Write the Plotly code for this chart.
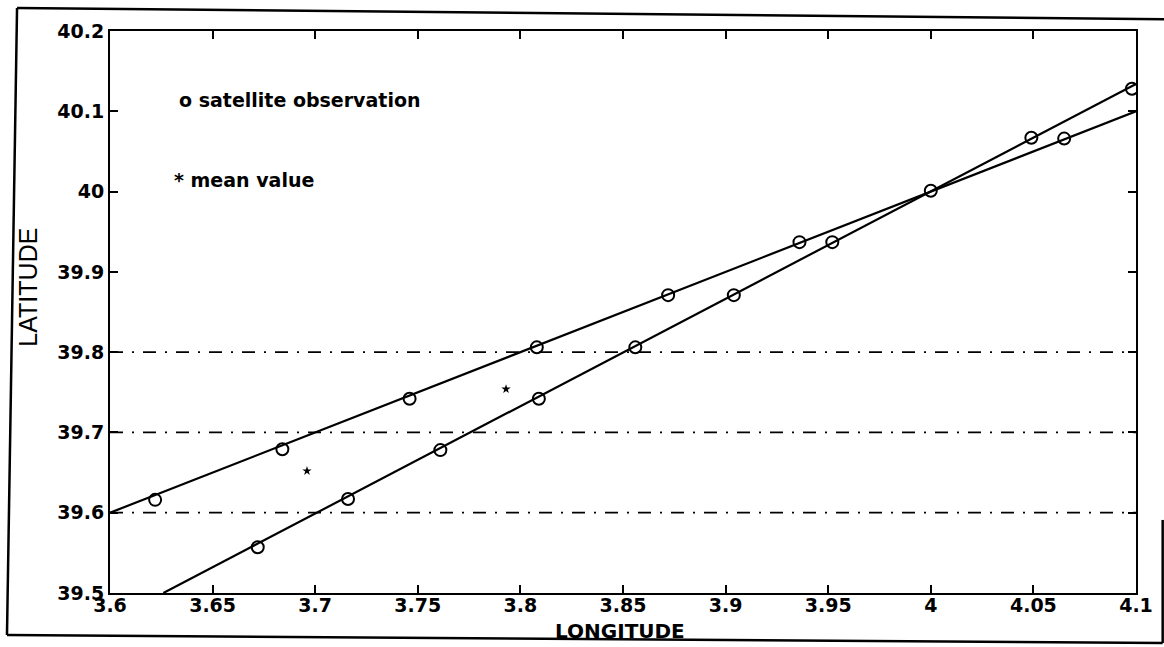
"""Satellite observations of two tracks and their mean values (longitude vs latitude)."""

import plotly.graph_objects as go

# Satellite observations along the flatter track
track_a_lon = [3.622, 3.684, 3.746, 3.808, 3.872, 3.936, 4.000, 4.065]
track_a_lat = [39.616, 39.679, 39.742, 39.806, 39.871, 39.937, 40.001, 40.066]

# Satellite observations along the steeper track
track_b_lon = [3.672, 3.716, 3.761, 3.809, 3.856, 3.904, 3.952, 4.049, 4.098]
track_b_lat = [39.557, 39.617, 39.678, 39.742, 39.806, 39.871, 39.937, 40.067, 40.128]

# Fitted lines drawn through each track (end points)
line_a_lon = [3.600, 4.100]
line_a_lat = [39.600, 40.100]
line_b_lon = [3.626, 4.100]
line_b_lat = [39.500, 40.134]

# Mean values
mean_lon = [3.696, 3.793]
mean_lat = [39.652, 39.754]

# Reference latitudes (dash-dot)
ref_lats = [39.6, 39.7, 39.8]

x_ticks = [3.6, 3.65, 3.7, 3.75, 3.8, 3.85, 3.9, 3.95, 4.0, 4.05, 4.1]
x_labels = ["3.6", "3.65", "3.7", "3.75", "3.8", "3.85", "3.9", "3.95", "4", "4.05", "4.1"]
y_ticks = [39.5, 39.6, 39.7, 39.8, 39.9, 40.0, 40.1, 40.2]
y_labels = ["39.5", "39.6", "39.7", "39.8", "39.9", "40", "40.1", "40.2"]

FONT = "DejaVu Sans"
INK = "black"

fig = go.Figure()

for lat in ref_lats:
    fig.add_trace(
        go.Scatter(
            x=[x_ticks[0], x_ticks[-1]],
            y=[lat, lat],
            mode="lines",
            line=dict(color=INK, width=1.8, dash="13px,9px,2px,9px"),
            hoverinfo="skip",
        )
    )

fig.add_trace(
    go.Scatter(x=line_a_lon, y=line_a_lat, mode="lines", line=dict(color=INK, width=2.2))
)
fig.add_trace(
    go.Scatter(x=line_b_lon, y=line_b_lat, mode="lines", line=dict(color=INK, width=2.2))
)

fig.add_trace(
    go.Scatter(
        x=track_a_lon + track_b_lon,
        y=track_a_lat + track_b_lat,
        mode="markers",
        marker=dict(symbol="circle-open", size=12, color=INK, line=dict(width=2)),
    )
)

fig.add_trace(
    go.Scatter(
        x=mean_lon,
        y=mean_lat,
        mode="markers",
        marker=dict(symbol="star", size=7, color=INK),
    )
)

axis_common = dict(
    showgrid=False,
    zeroline=False,
    showline=True,
    linecolor=INK,
    linewidth=2,
    mirror="ticks",
    ticks="inside",
    ticklen=8,
    tickwidth=1.5,
    tickcolor=INK,
    tickfont=dict(family=FONT, size=19, color=INK, weight="bold"),
)

fig.update_xaxes(
    range=[3.6, 4.1],
    tickvals=x_ticks,
    ticktext=x_labels,
    ticklabelstandoff=-6,
    **axis_common,
)
fig.update_yaxes(
    range=[39.5, 40.2],
    tickvals=y_ticks,
    ticktext=y_labels,
    ticklabelstandoff=0,
    **axis_common,
)

annotations = [
    dict(text="o satellite observation", x=0.065, y=0.877, xanchor="left",
         font=dict(family=FONT, size=19, color=INK, weight="bold")),
    dict(text="* mean value", x=0.060, y=0.735, xanchor="left",
         font=dict(family=FONT, size=19, color=INK, weight="bold")),
    dict(text="LATITUDE", x=-0.080, y=0.545, textangle=-90, xanchor="center",
         font=dict(family="Liberation Sans", size=25, color=INK)),
    dict(text="LONGITUDE", x=0.497, y=-0.068, xanchor="center",
         font=dict(family=FONT, size=20, color=INK, weight="bold")),
]
for a in annotations:
    fig.add_annotation(xref="paper", yref="paper", showarrow=False, yanchor="middle", **a)

# Outer frame of the scanned figure
frame = dict(type="line", xref="paper", yref="paper", line=dict(color=INK, width=2.5))
fig.add_shape(x0=-0.0906, y0=1.041, x1=1.028, y1=1.021, **frame)
fig.add_shape(x0=-0.0906, y0=1.041, x1=-0.1004, y1=-0.0747, **frame)
fig.add_shape(x0=-0.1004, y0=-0.0747, x1=1.026, y1=-0.089, **frame)
fig.add_shape(x0=1.026, y0=0.13, x1=1.026, y1=-0.089, **frame)

fig.update_layout(
    width=1164,
    height=647,
    margin=dict(l=110, r=28, t=31, b=54),
    paper_bgcolor="white",
    plot_bgcolor="white",
    showlegend=False,
)

# drop the browser's default body margin so the figure sits at the window origin
fig.write_html(
    "out.html",
    config={"displayModeBar": False},
    post_script="document.body.style.margin='0';",
)
